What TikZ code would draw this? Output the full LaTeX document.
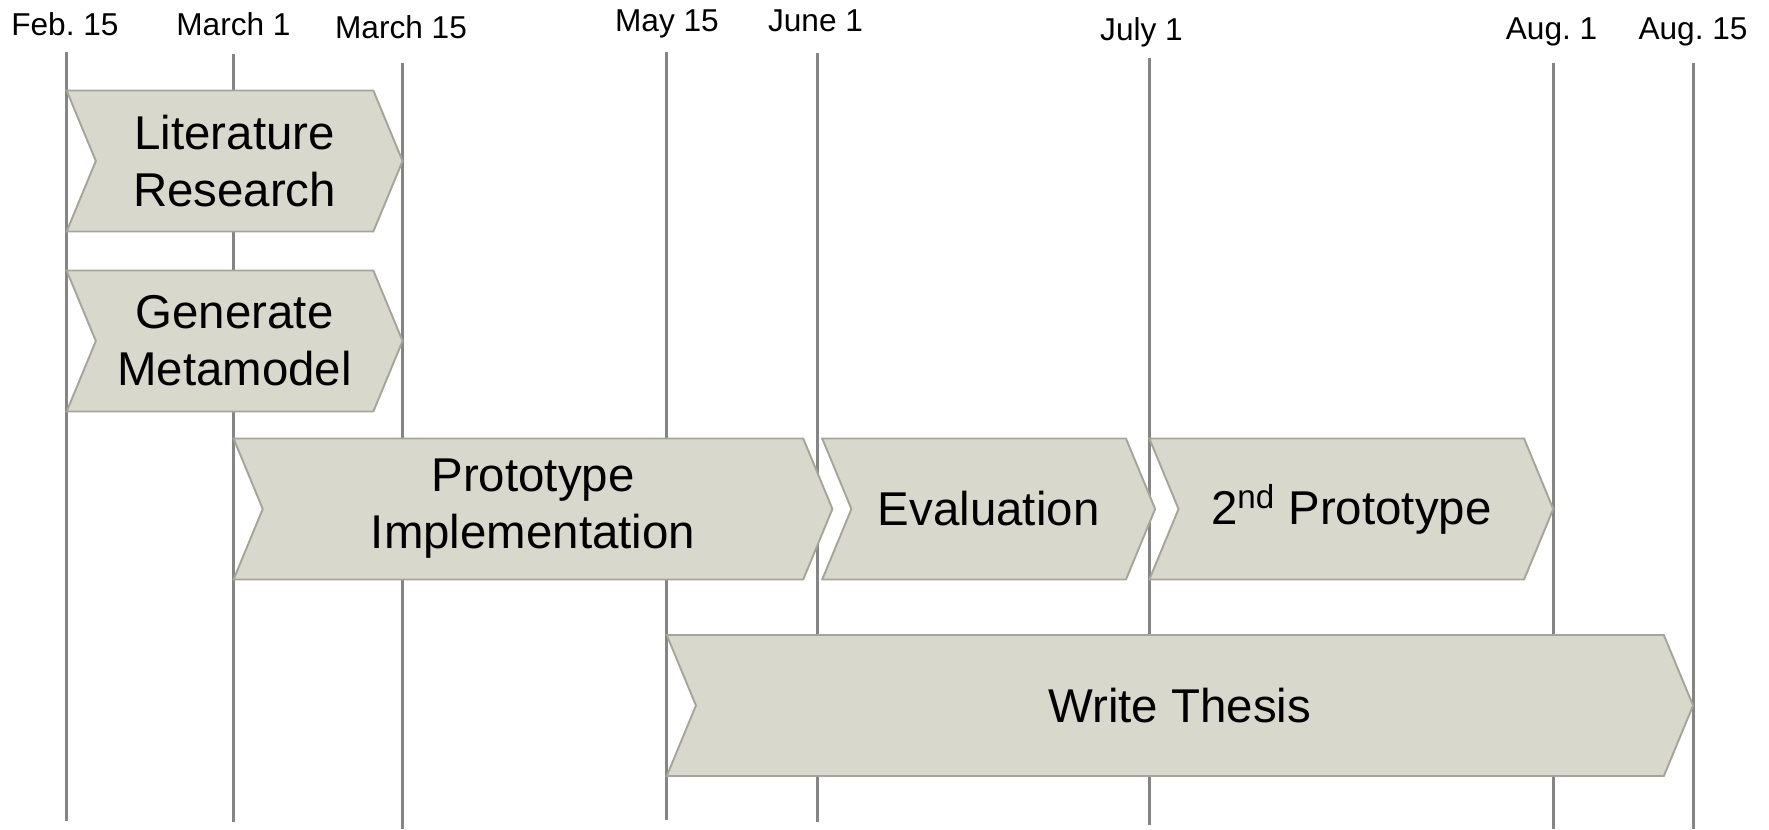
\documentclass[tikz,border=0pt]{standalone}
\usepackage{fontspec}
\setmainfont{Liberation Sans}
\usetikzlibrary{shapes.symbols}
\definecolor{phasefill}{RGB}{217,216,204}
\definecolor{phaseedge}{RGB}{166,165,153}
\definecolor{linegray}{RGB}{133,133,133}
\frenchspacing

\begin{document}
\begin{tikzpicture}[x=0.02cm,y=-0.02cm]
\tikzset{
phase/.style = {shape=signal,signal from=west,signal to=east,signal pointer angle=135,
  draw=phaseedge,line width=1.1pt,fill=phasefill,minimum height=2.82cm,inner sep=0pt,
  align=center,font=\fontsize{27}{32.5}\selectfont},
datelabel/.style = {anchor=base,inner sep=0pt,font=\fontsize{18}{20}\selectfont},
dateline/.style = {draw=linegray,line width=1.7pt},
}
\useasboundingbox (0,0) rectangle (1769,829);
    %
% Date lines with their labels.
\foreach \name/\xpos/\xlbl/\ylbl/\ytop/\ybot/\txt in {
  feb/66.6/64.9/35/52/821/Feb. 15,
  mara/233.5/233.5/35/54/822/March 1,
  marb/402.7/401/38.5/63/829/March 15,
  may/666.7/667/31.6/52/820/May 15,
  jun/817.9/815.5/31.6/53/822/June 1,
  jul/1149.5/1141.5/40.6/57.5/825/July 1,
  auga/1553.4/1551.6/39.5/63/829/Aug. 1,
  augb/1693.3/1693/39.5/63/829/Aug. 15}
{
  \node[datelabel] (\name) at (\xlbl,\ylbl) {\txt};
  \coordinate (\name top) at (\xpos,\ytop);
  \coordinate (\name bot) at (\xpos,\ybot);
  \draw[dateline] (\name top) -- (\name bot);
}
    %
% Phases.
\node[phase,minimum width=6.72cm] (litres) at (234.6,161) {Literature\\Research};
\node[phase,minimum width=6.72cm] (genmeta) at (234.6,341) {Generate\\Metamodel};
\node[phase,minimum width=11.98cm] (protoimpl) at (533,509) {Prototype\\Implementation};
\node[phase,minimum width=6.66cm] (eval) at (988.7,509) {Evaluation};
\node[phase,minimum width=8.08cm] (proto2) at (1351.3,509) {2\textsuperscript{nd} Prototype};
\node[phase,minimum width=20.53cm] (thesis) at (1179.9,705.5) {Write Thesis};
\end{tikzpicture}
\end{document}
